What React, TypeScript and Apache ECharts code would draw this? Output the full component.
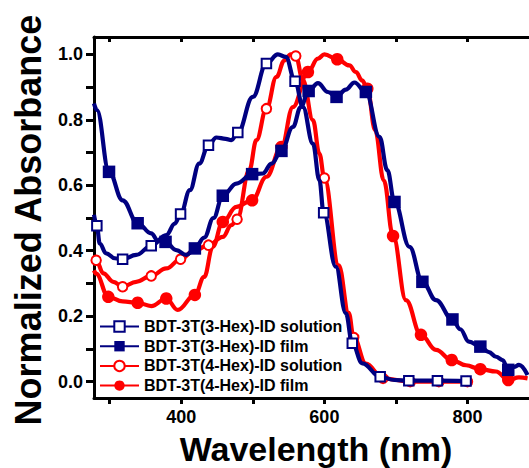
import React, { useEffect, useRef } from "react";
import * as echarts from "echarts";

// ---- Data ----
const NAME_SOL3 = "BDT-3T(3-Hex)-ID solution";
const NAME_FILM3 = "BDT-3T(3-Hex)-ID film";
const NAME_SOL4 = "BDT-3T(4-Hex)-ID solution";
const NAME_FILM4 = "BDT-3T(4-Hex)-ID film";

const wlSol3 = [278, 282, 286, 295, 307, 318, 337, 358, 379, 391, 399, 412, 425, 438, 449, 462, 470, 479, 500, 519, 535, 546, 559, 570, 584, 593, 599, 616, 630, 639, 653, 678, 698, 718, 758, 798];
const absSol3 = [0.51, 0.476, 0.422, 0.392, 0.377, 0.374, 0.387, 0.415, 0.448, 0.483, 0.512, 0.585, 0.666, 0.722, 0.746, 0.742, 0.738, 0.761, 0.87, 0.972, 1.0, 0.992, 0.918, 0.839, 0.727, 0.616, 0.516, 0.351, 0.209, 0.117, 0.056, 0.015, 0.005, 0.003, 0.003, 0.002];
const marksSol3 = [282, 318, 358, 399, 438, 479, 519, 559, 599, 639, 678, 718, 758, 798];

const wlFilm3 = [278, 282, 299, 318, 339, 358, 367, 378, 393, 407, 419, 432, 445, 458, 477, 499, 514, 526, 540, 556, 567, 578, 591, 605, 617, 630, 642, 658, 677, 688, 698, 719, 737, 756, 779, 790, 802, 818, 830, 840, 849, 857, 865, 872, 884];
const absFilm3 = [0.85, 0.83, 0.641, 0.554, 0.484, 0.453, 0.432, 0.427, 0.402, 0.387, 0.407, 0.44, 0.5, 0.568, 0.605, 0.634, 0.636, 0.666, 0.705, 0.778, 0.839, 0.888, 0.912, 0.885, 0.87, 0.892, 0.914, 0.885, 0.748, 0.646, 0.549, 0.412, 0.305, 0.249, 0.19, 0.16, 0.122, 0.107, 0.09, 0.076, 0.066, 0.036, 0.045, 0.051, 0.02];
const marksFilm3 = [299, 339, 378, 419, 458, 499, 540, 578, 617, 658, 698, 737, 779, 818, 857];

const wlSol4 = [278, 281, 291, 305, 318, 337, 358, 379, 399, 416, 438, 458, 470, 478, 495, 505, 519, 533, 544, 553, 560, 570, 584, 593, 600, 620, 634, 641, 658, 682, 720, 760, 800];
const absSol4 = [0.38, 0.371, 0.331, 0.305, 0.29, 0.305, 0.323, 0.346, 0.374, 0.397, 0.417, 0.442, 0.478, 0.496, 0.646, 0.738, 0.834, 0.931, 0.981, 1.0, 0.995, 0.921, 0.799, 0.697, 0.622, 0.355, 0.21, 0.135, 0.055, 0.01, 0.0, 0.0, 0.0];
const marksSol4 = [281, 318, 358, 399, 438, 478, 519, 560, 600, 641, 682, 720, 760, 800];

const wlFilm4 = [278, 281, 298, 318, 339, 358, 379, 395, 419, 432, 444, 458, 477, 499, 519, 540, 556, 577, 591, 600, 618, 635, 644, 653, 660, 671, 683, 696, 714, 735, 756, 778, 798, 818, 840, 857, 872, 884];
const absFilm4 = [0.34, 0.33, 0.259, 0.245, 0.241, 0.231, 0.254, 0.219, 0.265, 0.32, 0.412, 0.488, 0.534, 0.554, 0.626, 0.717, 0.839, 0.946, 0.987, 1.0, 0.985, 0.966, 0.946, 0.92, 0.895, 0.768, 0.615, 0.445, 0.249, 0.143, 0.097, 0.066, 0.05, 0.038, 0.031, 0.005, 0.013, 0.01];
const marksFilm4 = [298, 339, 379, 419, 458, 499, 540, 577, 618, 660, 696, 735, 778, 818, 857];

const xTicks = [300, 400, 500, 600, 700, 800];
const xLabels = [400, 600, 800];
const yTicks = [0, 0.1, 0.2, 0.3, 0.4, 0.5, 0.6, 0.7, 0.8, 0.9, 1.0];
const yLabels = [0, 0.2, 0.4, 0.6, 0.8, 1.0];

const X_TITLE = "Wavelength (nm)";
const Y_TITLE = "Normalized Absorbance";

const NAVY = "#000080";
const RED = "#FF0000";
const FONT = '"Liberation Sans", Arial, Helvetica, sans-serif';

function build(wl: number[], ab: number[], marks: number[]) {
  return wl.map((w, i) =>
    marks.includes(w) ? { value: [w, ab[i]] } : { value: [w, ab[i]], symbol: "none" }
  );
}

export default function App() {
  const ref = useRef<HTMLDivElement>(null);

  useEffect(() => {
    if (!ref.current) return;
    const chart = echarts.init(ref.current, undefined, { renderer: "svg" });

    const axisLineStyle = { color: "#000", width: 3 };
    const labelStyle = {
      fontSize: 18,
      fontWeight: "bold" as const,
      fontFamily: FONT,
      color: "#000",
    };

    const lineSeries = (
      name: string,
      data: any[],
      color: string,
      symbol: string,
      size: number,
      z: number,
      border: number
    ) => ({
      name,
      type: "line",
      data,
      smooth: 0.4,
      smoothMonotone: "x",
      symbol,
      symbolSize: size,
      showAllSymbol: true,
      lineStyle: { color, width: 4.2 },
      itemStyle: { color, borderWidth: border },
      emphasis: { disabled: true },
      silent: true,
      z,
    });

    chart.setOption({
      animation: false,
      backgroundColor: "#fff",
      grid: { left: 94, top: 37, right: 0, bottom: 70, containLabel: false },
      xAxis: [
        {
          type: "value",
          position: "bottom",
          min: 278,
          max: 886,
          axisLine: { show: true, onZero: false, lineStyle: axisLineStyle },
          axisTick: {
            show: true,
            inside: false,
            length: 6,
            lineStyle: { color: "#000", width: 3 },
            customValues: xTicks,
          },
          axisLabel: { ...labelStyle, margin: 10, customValues: xLabels },
          splitLine: { show: false },
        },
        {
          type: "value",
          position: "top",
          min: 278,
          max: 886,
          axisLine: { show: true, onZero: false, lineStyle: axisLineStyle },
          axisTick: {
            show: true,
            inside: true,
            length: 5,
            lineStyle: { color: "#000", width: 3 },
            customValues: xTicks,
          },
          axisLabel: { show: false },
          splitLine: { show: false },
        },
      ],
      yAxis: {
        type: "value",
        min: -0.05,
        max: 1.053,
        axisLine: { show: true, onZero: false, lineStyle: axisLineStyle },
        axisTick: {
          show: true,
          inside: false,
          length: 8,
          lineStyle: { color: "#000", width: 3 },
          customValues: yTicks,
        },
        axisLabel: {
          ...labelStyle,
          margin: 11,
          customValues: yLabels,
          formatter: (v: number) => Number(v).toFixed(1),
        },
        splitLine: { show: false },
      },
      legend: {
        data: [NAME_SOL3, NAME_FILM3, NAME_SOL4, NAME_FILM4],
        orient: "vertical",
        left: 99,
        top: 318.5,
        itemWidth: 39,
        itemHeight: 13,
        itemGap: 3.7,
        padding: 0,
        selectedMode: false,
        textStyle: {
          fontSize: 16,
          fontWeight: "bold",
          fontFamily: FONT,
          color: "#000",
          lineHeight: 13,
        },
      },
      series: [
        lineSeries(NAME_SOL4, build(wlSol4, absSol4, marksSol4), RED, "emptyCircle", 9.5, 2, 1.3),
        lineSeries(NAME_FILM4, build(wlFilm4, absFilm4, marksFilm4), RED, "circle", 12.5, 2, 0),
        lineSeries(NAME_SOL3, build(wlSol3, absSol3, marksSol3), NAVY, "emptyRect", 9.5, 3, 1.3),
        lineSeries(NAME_FILM3, build(wlFilm3, absFilm3, marksFilm3), NAVY, "rect", 12.5, 3, 0),
      ],
      graphic: [
        {
          type: "text",
          x: 316,
          y: 449,
          silent: true,
          style: {
            text: X_TITLE,
            fontSize: 34,
            fontWeight: "bold",
            fontFamily: FONT,
            fill: "#000",
            align: "center",
            verticalAlign: "middle",
            textAlign: "center",
            textVerticalAlign: "middle",
          },
        },
        {
          type: "text",
          x: 28.5,
          y: 220,
          rotation: Math.PI / 2,
          silent: true,
          style: {
            text: Y_TITLE,
            fontSize: 36,
            fontWeight: "bold",
            fontFamily: FONT,
            fill: "#000",
            align: "center",
            verticalAlign: "middle",
            textAlign: "center",
            textVerticalAlign: "middle",
          },
        },
      ],
    });

    return () => chart.dispose();
  }, []);

  return (
    <div
      ref={ref}
      style={{ position: "absolute", left: 0, top: 0, width: 529, height: 468 }}
    />
  );
}
